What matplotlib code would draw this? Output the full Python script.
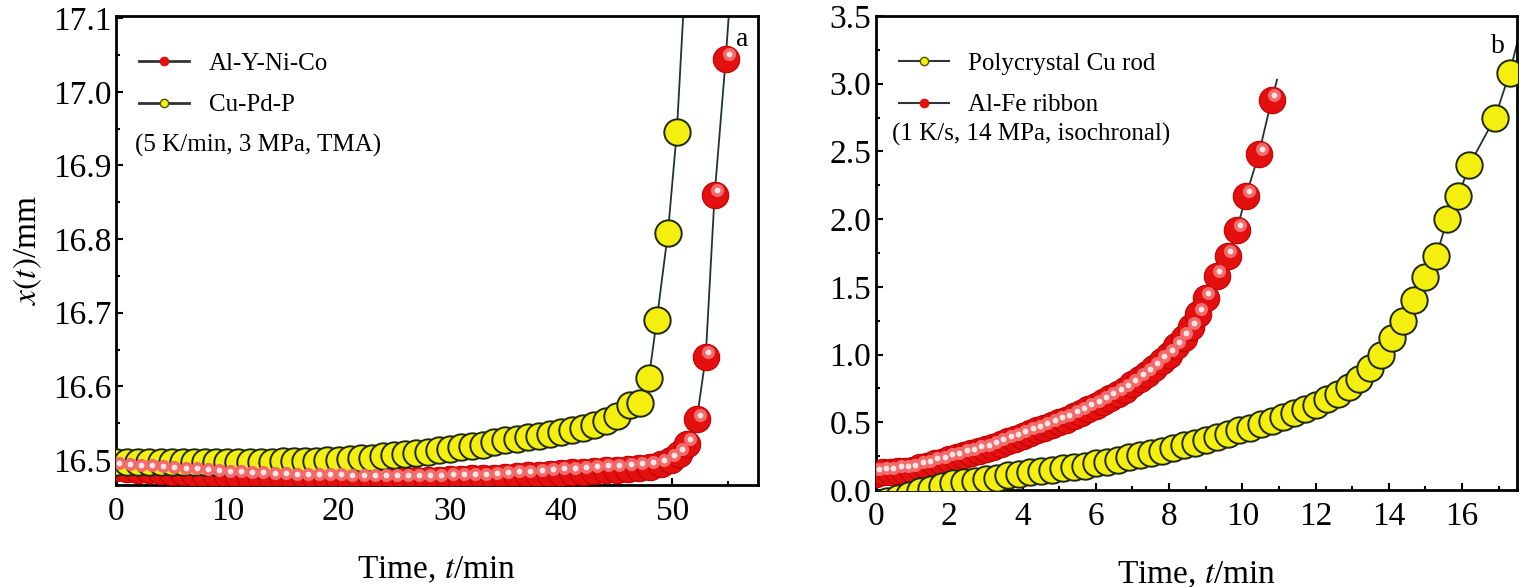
import matplotlib
matplotlib.use("Agg")
import matplotlib.pyplot as plt
import matplotlib.transforms as mtransforms
from matplotlib.lines import Line2D
from matplotlib.ticker import MultipleLocator

plt.rcParams['font.family'] = ['Liberation Serif', 'DejaVu Serif']
plt.rcParams['mathtext.fontset'] = 'stix'

# panel a: Cu-Pd-P (yellow)
t_cupdp = [0, 1, 2, 3, 4, 5, 6, 7, 8, 9, 10, 11, 12, 13, 14, 15, 16, 17, 18, 19,
           20, 21, 22, 23, 24, 25, 26, 27, 28, 29, 30, 31, 32, 33, 34, 35, 36, 37,
           38, 39, 40, 41, 42, 43, 44, 45, 46.2, 47.1, 47.9, 48.6, 49.6, 50.4]
x_cupdp = [16.497, 16.497, 16.497, 16.497, 16.497, 16.497, 16.497, 16.497, 16.497,
           16.497, 16.497, 16.497, 16.497, 16.497, 16.497, 16.498, 16.498, 16.499,
           16.499, 16.500, 16.500, 16.501, 16.502, 16.503, 16.505, 16.507, 16.508,
           16.510, 16.511, 16.513, 16.515, 16.517, 16.519, 16.521, 16.524, 16.527,
           16.529, 16.531, 16.533, 16.535, 16.538, 16.541, 16.544, 16.548, 16.553,
           16.560, 16.575, 16.578, 16.612, 16.690, 16.808, 16.945]
t_cupdp_line_end = [51.0]
x_cupdp_line_end = [17.11]

# panel a: Al-Y-Ni-Co (red)
t_alyni = [0, 1, 2, 3, 4, 5, 6, 7, 8, 9, 10, 11, 12, 13, 14, 15, 16, 17, 18, 19,
           20, 21, 22, 23, 24, 25, 26, 27, 28, 29, 30, 31, 32, 33, 34, 35, 36, 37,
           38, 39, 40, 41, 42, 43, 44, 45, 46, 47, 48, 49, 49.9, 50.6, 51.3, 52.2,
           53.0, 53.8, 54.8]
x_alyni = [16.489, 16.488, 16.487, 16.486, 16.485, 16.484, 16.483, 16.482, 16.481,
           16.480, 16.479, 16.478, 16.477, 16.477, 16.476, 16.476, 16.475, 16.475,
           16.474, 16.474, 16.474, 16.473, 16.473, 16.473, 16.473, 16.473, 16.473,
           16.473, 16.473, 16.473, 16.474, 16.474, 16.475, 16.475, 16.476, 16.477,
           16.478, 16.479, 16.480, 16.481, 16.482, 16.483, 16.484, 16.485, 16.486,
           16.487, 16.488, 16.489, 16.491, 16.494, 16.500, 16.508, 16.522, 16.555,
           16.640, 16.860, 17.045]
t_alyni_line_end = [55.1]
x_alyni_line_end = [17.11]

# panel b: Al-Fe ribbon (red)
t_alfe = [0.0, 0.2, 0.4, 0.6, 0.8, 1.0, 1.2, 1.4, 1.6, 1.8, 2.0, 2.2, 2.4, 2.6, 2.8,
          3.0, 3.2, 3.4, 3.6, 3.8, 4.0, 4.2, 4.4, 4.6, 4.8, 5.0, 5.2, 5.4, 5.6, 5.8,
          6.0, 6.2, 6.4, 6.6, 6.8, 7.0, 7.2, 7.4, 7.6, 7.8, 8.0, 8.2, 8.4, 8.6, 8.8,
          9.0, 9.2, 9.4, 9.6, 9.8, 10.1, 10.4, 10.8]
x_alfe = [0.12, 0.13, 0.13, 0.14, 0.14, 0.15, 0.17, 0.18, 0.20, 0.21, 0.23, 0.24,
          0.26, 0.27, 0.29, 0.30, 0.32, 0.34, 0.36, 0.38, 0.40, 0.42, 0.44, 0.46,
          0.48, 0.50, 0.52, 0.55, 0.57, 0.60, 0.62, 0.65, 0.68, 0.71, 0.74, 0.78,
          0.82, 0.86, 0.90, 0.95, 1.00, 1.06, 1.12, 1.20, 1.30, 1.42, 1.55, 1.72,
          1.92, 2.17, 2.48, 2.88, 2.88]
x_alfe = [0.12, 0.13, 0.13, 0.14, 0.14, 0.15, 0.17, 0.18, 0.20, 0.21, 0.23, 0.24,
          0.26, 0.27, 0.29, 0.30, 0.32, 0.34, 0.36, 0.38, 0.40, 0.42, 0.44, 0.46,
          0.48, 0.50, 0.52, 0.55, 0.57, 0.60, 0.62, 0.65, 0.68, 0.71, 0.74, 0.78,
          0.82, 0.86, 0.90, 0.95, 1.00, 1.06, 1.12, 1.20, 1.30, 1.42, 1.58, 1.73,
          1.92, 2.17, 2.48, 2.88]
t_alfe = [0.0, 0.2, 0.4, 0.6, 0.8, 1.0, 1.2, 1.4, 1.6, 1.8, 2.0, 2.2, 2.4, 2.6, 2.8,
          3.0, 3.2, 3.4, 3.6, 3.8, 4.0, 4.2, 4.4, 4.6, 4.8, 5.0, 5.2, 5.4, 5.6, 5.8,
          6.0, 6.2, 6.4, 6.6, 6.8, 7.0, 7.2, 7.4, 7.6, 7.8, 8.0, 8.2, 8.4, 8.6, 8.8,
          9.0, 9.3, 9.6, 9.85, 10.1, 10.45, 10.8]
t_alfe_line_end = [10.95]
x_alfe_line_end = [3.03]

# panel b: polycrystal Cu rod (yellow)
t_curod = [0.0, 0.3, 0.6, 0.9, 1.2, 1.5, 1.8, 2.1, 2.4, 2.7, 3.0, 3.3, 3.6, 3.9,
           4.2, 4.5, 4.8, 5.1, 5.4, 5.7, 6.0, 6.3, 6.6, 6.9, 7.2, 7.5, 7.8, 8.1,
           8.4, 8.7, 9.0, 9.3, 9.6, 9.9, 10.2, 10.5, 10.8, 11.1, 11.4, 11.7, 12.0,
           12.3, 12.6, 12.9, 13.2, 13.5, 13.8, 14.1, 14.4, 14.7, 15.0, 15.3, 15.6,
           15.9, 16.2, 16.6, 16.9, 17.3]
x_curod = [-0.10, -0.08, -0.06, -0.04, -0.01, 0.01, 0.03, 0.05, 0.06, 0.07, 0.08,
           0.09, 0.11, 0.12, 0.13, 0.14, 0.15, 0.16, 0.17, 0.18, 0.20, 0.21, 0.22,
           0.24, 0.26, 0.27, 0.29, 0.31, 0.33, 0.35, 0.37, 0.39, 0.41, 0.44, 0.46,
           0.49, 0.51, 0.54, 0.57, 0.60, 0.63, 0.67, 0.71, 0.76, 0.82, 0.90, 1.00,
           1.12, 1.25, 1.40, 1.57, 1.73, 2.00, 2.17, 2.40, 2.75, 3.08, 3.08]
x_curod = x_curod[:57]
t_curod = t_curod[:55] + [16.9, 17.3]
t_curod_line_end = [17.55]
x_curod_line_end = [3.35]

LINE = '#1c3535'
YELLOW = '#f5ef10'
RED = '#e41010'
MS = 19


def draw_series(ax, fig, t, x, t_end, x_end, kind):
    ax.plot(t + t_end, x + x_end, '-', color=LINE, lw=1.3, zorder=2)
    if kind == 'yellow':
        ax.plot(t, x, 'o', ms=MS, mfc=YELLOW, mec='#1e2a10', mew=1.4, zorder=3)
    else:
        ax.plot(t, x, 'o', ms=MS, mfc=RED, mec='#c00000', mew=0.8, zorder=3)
        off = mtransforms.offset_copy(ax.transData, fig=fig, x=2, y=3.5, units='points')
        ax.plot(t, x, 'o', ms=MS * 0.5, mfc='#f26a6a', mec='none', zorder=4,
                transform=off)
        ax.plot(t, x, 'o', ms=MS * 0.22, mfc='#fde6e6', mec='none', zorder=5,
                transform=off)


def style_axes(ax):
    for s in ax.spines.values():
        s.set_linewidth(2)
    ax.tick_params(which='both', direction='in', labelsize=24, width=1.5)
    ax.tick_params(which='major', length=5)
    ax.tick_params(which='minor', length=3)
    ax.tick_params(axis='x', pad=8)
    ax.set_xlabel('Time, $t$/min', fontsize=24, labelpad=20)


def main():
    fig = plt.figure(figsize=(15.27, 5.87), dpi=100)
    ax1 = fig.add_axes([116 / 1527, 1 - 485 / 587, 642 / 1527, 469 / 587])
    ax2 = fig.add_axes([876 / 1527, 1 - 490 / 587, 641 / 1527, 474 / 587])

    draw_series(ax1, fig, t_alyni, x_alyni, t_alyni_line_end, x_alyni_line_end, 'red')
    draw_series(ax1, fig, t_cupdp, x_cupdp, t_cupdp_line_end, x_cupdp_line_end, 'yellow')
    ax1.set_xlim(0, 57.7)
    ax1.set_ylim(16.466, 17.103)
    ax1.xaxis.set_major_locator(MultipleLocator(10))
    ax1.xaxis.set_minor_locator(MultipleLocator(5))
    ax1.yaxis.set_major_locator(MultipleLocator(0.1))
    ax1.yaxis.set_minor_locator(MultipleLocator(0.05))
    ax1.yaxis.set_major_formatter(plt.FormatStrFormatter('%.1f'))
    style_axes(ax1)
    ax1.set_ylabel('$x(t)$/mm', fontsize=24, labelpad=6)
    h1 = [Line2D([], [], color='#333333', lw=2, marker='o', ms=6, mfc=RED, mec=RED),
          Line2D([], [], color='#333333', lw=2, marker='o', ms=6, mfc=YELLOW, mec='#555500')]
    ax1.legend(h1, ['Al-Y-Ni-Co', 'Cu-Pd-P'], loc='upper left', frameon=False,
               fontsize=18, handlelength=2.0, labelspacing=0.75,
               bbox_to_anchor=(0.0, 0.97))
    ax1.text(0.03, 0.725, '(5 K/min, 3 MPa, TMA)', transform=ax1.transAxes,
             fontsize=18, va='center')
    ax1.text(0.965, 0.95, 'a', transform=ax1.transAxes, fontsize=20, va='center')

    draw_series(ax2, fig, t_alfe, x_alfe, t_alfe_line_end, x_alfe_line_end, 'red')
    draw_series(ax2, fig, t_curod, x_curod, t_curod_line_end, x_curod_line_end, 'yellow')
    ax2.set_xlim(0, 17.5)
    ax2.set_ylim(0, 3.5)
    ax2.xaxis.set_major_locator(MultipleLocator(2))
    ax2.xaxis.set_minor_locator(MultipleLocator(1))
    ax2.yaxis.set_major_locator(MultipleLocator(0.5))
    ax2.yaxis.set_minor_locator(MultipleLocator(0.25))
    ax2.yaxis.set_major_formatter(plt.FormatStrFormatter('%.1f'))
    style_axes(ax2)
    h2 = [Line2D([], [], color='#333333', lw=1.5, marker='o', ms=6, mfc=YELLOW, mec='#555500'),
          Line2D([], [], color='#333333', lw=1.5, marker='o', ms=6, mfc=RED, mec=RED)]
    ax2.legend(h2, ['Polycrystal Cu rod', 'Al-Fe ribbon'], loc='upper left',
               frameon=False, fontsize=18, handlelength=2.0, labelspacing=0.75,
               bbox_to_anchor=(0.0, 0.97))
    ax2.text(0.025, 0.75, '(1 K/s, 14 MPa, isochronal)', transform=ax2.transAxes,
             fontsize=18, va='center')
    ax2.text(0.96, 0.935, 'b', transform=ax2.transAxes, fontsize=20, va='center')

    fig.savefig('out.png', dpi=100)


if __name__ == '__main__':
    main()
